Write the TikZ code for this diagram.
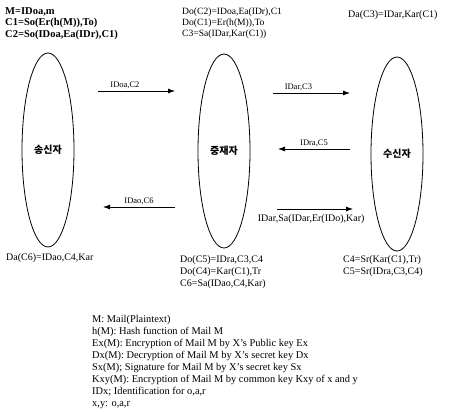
\documentclass[tikz,border=0pt]{standalone}
\usepackage{fontspec}
\setmainfont{Liberation Serif}
\newfontfamily\korfont{Noto Sans CJK KR}
\usepackage{tikz}
\usetikzlibrary{shapes.geometric,arrows.meta}

\begin{document}
\begin{tikzpicture}[x=1pt, y=-1pt,
   party/.style={ellipse, draw, line width=0.8pt, minimum width=52pt, minimum height=194pt, inner sep=0pt, font=\korfont\bfseries\fontsize{10}{12}\selectfont},
   msg/.style={-{Latex[length=7pt,width=5pt]}, line width=0.8pt},
   lbl/.style={inner sep=1.5pt, font=\fontsize{8.5}{10}\selectfont},
   eqn/.style={inner sep=0pt, align=left, anchor=north west, font=\fontsize{10}{12}\selectfont}]
   \useasboundingbox (0,0) rectangle (451,412);
   	\foreach \x/\y/\t [count=\n] in {48/150/송신자, 224/151/중재자, 397/154/수신자}
       		\node[party] at (\x,\y) (p\n) {\t};
   	\foreach \xa/\xb/\y [count=\n] in {98/175/91, 273/350/93, 350/278/149, 175/103/207, 277/353/209}
       		{\coordinate (s\n) at (\xa,\y); \coordinate (e\n) at (\xb,\y);}
        	   	\draw[msg] (s1) -- node[lbl, above, pos=0.35] {IDoa,C2} (e1);
            	\draw[msg] (s2) -- node[lbl, above, pos=0.33] {IDar,C3} (e2);
            	\draw[msg] (s3) -- node[lbl, above, pos=0.5] {IDra,C5} (e3);
            	\draw[msg] (s4) -- node[lbl, above, pos=0.5] {IDao,C6} (e4);
            	\draw[msg] (s5) -- node[lbl, below=4pt, pos=0.45, font=\fontsize{10}{12}\selectfont] {IDar,Sa(IDar,Er(IDo),Kar)} (e5);
		\node[eqn, font=\bfseries\fontsize{10.5}{11.6}\selectfont] (otop) at (5,7) {M=IDoa,m\\C1=So(Er(h(M)),To)\\C2=So(IDoa,Ea(IDr),C1)};
		\node[eqn, font=\fontsize{9.6}{11}\selectfont] (atop) at (182,8) {Do(C2)=IDoa,Ea(IDr),C1\\Do(C1)=Er(h(M)),To\\C3=Sa(IDar,Kar(C1))};
		\node[eqn] (rtop) at (348,10) {Da(C3)=IDar,Kar(C1)};
		\node[eqn] (obot) at (6,253) {Da(C6)=IDao,C4,Kar};
		\node[eqn] (abot) at (180,255) {Do(C5)=IDra,C3,C4\\Do(C4)=Kar(C1),Tr\\C6=Sa(IDao,C4,Kar)};
		\node[eqn] (rbot) at (343,255) {C4=Sr(Kar(C1),Tr)\\C5=Sr(IDra,C3,C4)};
		\node[eqn, font=\fontsize{10.4}{12}\selectfont] (keys) at (92,315) {M: Mail(Plaintext)\\h(M): Hash function of Mail M\\Ex(M): Encryption of Mail M by X's Public key Ex\\Dx(M): Decryption of Mail M by X's secret key Dx\\Sx(M); Signature for Mail M by X's secret key Sx\\Kxy(M): Encryption of Mail M by common key Kxy of x and y\\IDx; Identification for o,a,r\\x,y: o,a,r};
\end{tikzpicture}
\end{document}
